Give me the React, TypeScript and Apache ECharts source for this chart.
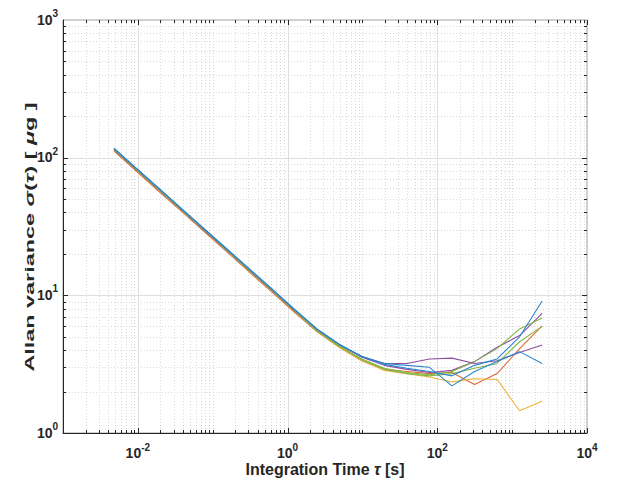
import React, { useEffect, useRef } from "react";
import * as echarts from "echarts";

// Integration times (octave spaced) [s]
const TAU = [0.0048, 0.0096, 0.0192, 0.0384, 0.0768, 0.1536, 0.3072, 0.6144, 1.229, 2.458, 4.915, 9.83, 19.66, 39.32, 78.64, 157.3, 314.6, 629.1, 1258, 2517];

// Allan deviation per data set [ug]
const SET_ORANGE = [111.4, 79.7, 56.8, 40.7, 29.1, 20.8, 14.8, 10.6, 7.57, 5.45, 4.2, 3.35, 2.9, 2.8, 2.7, 2.75, 2.25, 2.7, 4.1, 6.0];
const SET_YELLOW = [113.2, 80.9, 57.7, 41.3, 29.5, 21.1, 15.0, 10.8, 7.68, 5.5, 4.2, 3.35, 2.85, 2.7, 2.55, 2.35, 2.48, 2.45, 1.45, 1.7];
const SET_PURPLE_A = [115.4, 82.5, 58.9, 42.1, 30.1, 21.5, 15.4, 11.0, 7.84, 5.65, 4.4, 3.55, 3.1, 2.9, 2.75, 2.85, 3.3, 4.2, 5.1, 7.4];
const SET_GREEN_A = [114.3, 81.7, 58.3, 41.7, 29.8, 21.3, 15.2, 10.9, 7.76, 5.55, 4.25, 3.45, 2.95, 2.75, 2.65, 2.8, 3.3, 4.1, 5.7, 6.85];
const SET_PURPLE_B = [114.0, 81.5, 58.2, 41.6, 29.7, 21.3, 15.2, 10.9, 7.75, 5.6, 4.35, 3.6, 3.2, 3.2, 3.45, 3.5, 3.2, 3.35, 3.85, 4.35];
const SET_GREEN_B = [114.9, 82.1, 58.6, 41.9, 30.0, 21.4, 15.3, 11.0, 7.8, 5.55, 4.3, 3.4, 2.9, 2.7, 2.6, 2.7, 2.95, 3.2, 4.6, 5.95];
const SET_BLUE_B = [116.6, 83.3, 59.5, 42.5, 30.4, 21.7, 15.5, 11.1, 7.92, 5.7, 4.4, 3.6, 3.2, 3.1, 3.0, 2.2, 2.8, 3.3, 3.9, 3.2];
const SET_BLUE_A = [117.2, 83.7, 59.8, 42.7, 30.5, 21.8, 15.6, 11.2, 7.95, 5.7, 4.4, 3.6, 3.15, 2.95, 2.8, 2.6, 3.1, 3.45, 5.0, 9.1];

const SERIES = [
  { name: "set 1", values: SET_ORANGE, color: "#dd6a35" },
  { name: "set 2", values: SET_YELLOW, color: "#edb33a" },
  { name: "set 3", values: SET_PURPLE_A, color: "#8f4ea3" },
  { name: "set 4", values: SET_GREEN_A, color: "#84b646" },
  { name: "set 5", values: SET_PURPLE_B, color: "#8f4ea3" },
  { name: "set 6", values: SET_GREEN_B, color: "#84b646" },
  { name: "set 7", values: SET_BLUE_B, color: "#2a86cf" },
  { name: "set 8", values: SET_BLUE_A, color: "#2a86cf" },
];

const X_MIN = 1e-3;
const X_MAX = 1e4;
const Y_MIN = 1;
const Y_MAX = 1e3;
const X_DECADES = [-3, -2, -1, 0, 1, 2, 3];
const Y_DECADES = [0, 1, 2];
const MANTISSAS = [2, 3, 4, 5, 6, 7, 8, 9];

const X_TITLE = "Integration Time {i|τ} [s]";
const Y_TITLE = "Allan variance {i|σ}({i|τ}) [ {i|μ}g ]";

const FONT = "Liberation Sans, Arial, Helvetica, sans-serif";
const TXT = "#262626";

const richLabel = {
  b: { fontSize: 14, fontWeight: "bold", fontFamily: FONT, color: TXT, lineHeight: 18, verticalAlign: "bottom" },
  s: { fontSize: 10, fontWeight: "bold", fontFamily: FONT, color: TXT, lineHeight: 18, verticalAlign: "top" },
};

const expLabel = (v: number) => {
  const e = Math.round(Math.log10(v));
  return "{b|10}{s|" + e + "}";
};

export default function App() {
  const ref = useRef<HTMLDivElement>(null);
  useEffect(() => {
    document.body.style.margin = "0";
    if (!ref.current) return;
    const chart = echarts.init(ref.current, undefined, { renderer: "svg" });

    const xMinor: number[] = [];
    const xMajor: number[] = [];
    X_DECADES.forEach((d) => {
      if (d % 2 === 0) xMajor.push(Math.pow(10, d));
      else if (d !== -3) xMinor.push(Math.pow(10, d));
      MANTISSAS.forEach((m) => xMinor.push(m * Math.pow(10, d)));
    });
    const yMinor: number[] = [];
    const yMajor: number[] = [];
    Y_DECADES.forEach((d) => {
      if (d !== 0) yMajor.push(Math.pow(10, d));
      MANTISSAS.forEach((m) => yMinor.push(m * Math.pow(10, d)));
    });

    const renderGrid = (_params: any, api: any) => {
      const children: any[] = [];
      const p0 = api.coord([X_MIN, Y_MIN]);
      const p1 = api.coord([X_MAX, Y_MAX]);
      const xl = p0[0], yb = p0[1], xr = p1[0], yt = p1[1];
      const minorStyle = { stroke: "#dadada", lineWidth: 1, lineDash: [1, 2] };
      const majorStyle = { stroke: "#dedede", lineWidth: 1 };
      const tickStyle = { stroke: TXT, lineWidth: 1 };
      const seg = (x1: number, y1: number, x2: number, y2: number, style: any) =>
        children.push({ type: "line", shape: { x1, y1, x2, y2 }, style });
      const px = (v: number) => Math.round(api.coord([v, Y_MIN])[0]) + 0.5;
      const py = (v: number) => Math.round(api.coord([X_MIN, v])[1]) + 0.5;
      xMinor.forEach((v) => seg(px(v), yt, px(v), yb, minorStyle));
      yMinor.forEach((v) => seg(xl, py(v), xr, py(v), minorStyle));
      xMajor.forEach((v) => { if (v > X_MIN) seg(px(v), yt, px(v), yb, majorStyle); });
      yMajor.forEach((v) => seg(xl, py(v), xr, py(v), majorStyle));
      // ticks (inside, all four sides)
      const xTicksMajor = xMajor.concat([X_MAX]);
      xMinor.forEach((v) => { const x = px(v); seg(x, yb, x, yb - 3, tickStyle); seg(x, yt, x, yt + 3, tickStyle); });
      xTicksMajor.forEach((v) => { const x = px(v); seg(x, yb, x, yb - 5, tickStyle); seg(x, yt, x, yt + 5, tickStyle); });
      yMinor.forEach((v) => { const y = py(v); seg(xl, y, xl + 3, y, tickStyle); seg(xr, y, xr - 3, y, tickStyle); });
      yMajor.forEach((v) => { const y = py(v); seg(xl, y, xl + 5, y, tickStyle); seg(xr, y, xr - 5, y, tickStyle); });
      return { type: "group", children };
    };

    const option: any = {
      animation: false,
      backgroundColor: "#ffffff",
      grid: {
        left: 63, right: 31, top: 20, bottom: 48,
        outerBoundsMode: "none",
        containLabel: false,
        show: true, borderColor: "#a0a0a0", borderWidth: 1, backgroundColor: "transparent",
      },
      graphic: [
        {
          type: "text",
          x: 30,
          y: 237,
          rotation: Math.PI / 2,
          scaleX: 1.8,
          style: {
            text: Y_TITLE,
            fontSize: 13,
            fontWeight: "bold",
            fontFamily: FONT,
            fill: TXT,
            align: "center",
            verticalAlign: "middle",
            rich: { i: { fontSize: 13, fontWeight: "bold", fontStyle: "italic", fontFamily: FONT, fill: TXT } },
          },
        },
      ],
      xAxis: {
        type: "log",
        logBase: 10,
        min: X_MIN,
        max: X_MAX,
        splitNumber: 7,
        axisLine: { show: true, lineStyle: { color: TXT, width: 1 } },
        axisTick: { show: false },
        splitLine: { show: false },
        axisLabel: {
          margin: 9,
          showMinLabel: true,
          showMaxLabel: true,
          formatter: (v: number) => {
            const e = Math.round(Math.log10(v));
            if (e % 2 !== 0) return "";
            return expLabel(v);
          },
          rich: richLabel,
        },
        name: X_TITLE,
        nameLocation: "middle",
        nameGap: 28,
        nameMoveOverlap: false,
        nameTextStyle: {
          fontSize: 16, fontWeight: "bold", fontFamily: FONT, color: TXT,
          rich: { i: { fontSize: 16, fontWeight: "bold", fontStyle: "italic", fontFamily: FONT, color: TXT } },
        },
      },
      yAxis: {
        type: "log",
        logBase: 10,
        min: Y_MIN,
        max: Y_MAX,
        splitNumber: 3,
        axisLine: { show: true, lineStyle: { color: TXT, width: 1 } },
        axisTick: { show: false },
        splitLine: { show: false },
        axisLabel: {
          margin: 5,
          showMinLabel: true,
          showMaxLabel: true,
          padding: [0, 0, 5, 0],
          formatter: (v: number) => expLabel(v),
          rich: richLabel,
        },
      },
      series: [
        {
          type: "custom",
          silent: true,
          z: 1,
          data: [[1, 1]],
          renderItem: renderGrid,
        },
        ...SERIES.map((s, i) => ({
          type: "line",
          name: s.name,
          z: 2 + i,
          data: TAU.map((t, k) => [t, s.values[k]]),
          showSymbol: false,
          symbol: "none",
          lineStyle: { color: s.color, width: 1.1 },
          itemStyle: { color: s.color },
        })),
      ],
    };
    chart.setOption(option);
    return () => chart.dispose();
  }, []);
  return <div ref={ref} style={{ width: 618, height: 481 }} />;
}
